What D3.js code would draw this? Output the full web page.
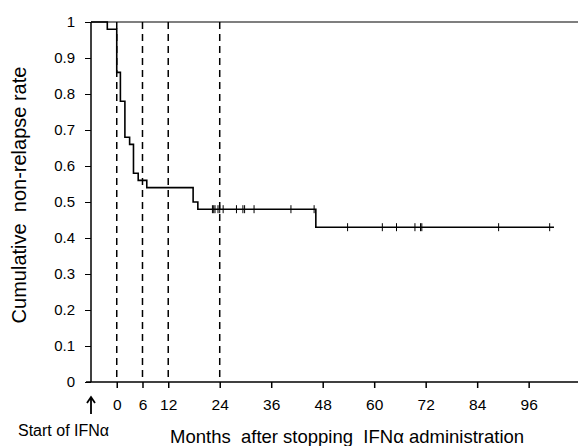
<!DOCTYPE html>
<html lang="en">
<head>
<meta charset="UTF-8">
<title>Cumulative non-relapse rate</title>
<script src="https://cdn.jsdelivr.net/npm/d3@7"></script>
<style>
  body { margin: 0; background: #fff; }
  text { font-family: "Liberation Sans", Arial, sans-serif; fill: #000; }
</style>
</head>
<body>
<script>
// step curve: time (months after stopping IFNa) where the rate changes, and new rate
var stepTimes = [-6, -2.2, 0, 0.85, 1.9, 3.0, 3.9, 5.0, 7.0, 17.8, 18.9, 46.4];
var stepRates = [1, 0.98, 0.86, 0.78, 0.68, 0.66, 0.58, 0.56, 0.54, 0.50, 0.48, 0.43];
var endTime = 101.9;
// censored observations
var censorTimes = [22.3, 22.6, 22.9, 23.6, 24.0, 24.8, 27.9, 29.4, 29.8, 32.0, 40.6, 46.0,
                   53.8, 61.9, 65.2, 69.5, 70.8, 71.1, 89.0, 100.9];
var markTimes = [0, 6, 12, 24];   // dashed reference lines
var xTicks = [0, 6, 12, 24, 36, 48, 60, 72, 84, 96];
var yTicks = [0, 0.1, 0.2, 0.3, 0.4, 0.5, 0.6, 0.7, 0.8, 0.9, 1];

var width = 579, height = 446;
var svg = d3.select("body").append("svg")
    .attr("width", width).attr("height", height);

var x = d3.scaleLinear().domain([-6, 107.5]).range([91, 578]);
var y = d3.scaleLinear().domain([0, 1]).range([382, 22]);

// rate at a given time (step function)
function rateAt(t) {
    var r = stepRates[0];
    for (var i = 0; i < stepTimes.length; i++) {
        if (stepTimes[i] <= t) r = stepRates[i];
    }
    return r;
}

/* dashed lines */
svg.selectAll(".mark").data(markTimes).enter().append("line")
    .attr("x1", d => x(d)).attr("x2", d => x(d))
    .attr("y1", y(1)).attr("y2", y(0))
    .attr("stroke", "#000").attr("stroke-width", 1.5)
    .attr("stroke-dasharray", "7,5");

/* top line */
svg.append("line")
    .attr("x1", x(-6)).attr("x2", x(107.5))
    .attr("y1", y(1)).attr("y2", y(1))
    .attr("stroke", "#000").attr("stroke-width", 1.2);

/* axes */
var yAxis = d3.axisLeft(y).tickValues(yTicks).tickSize(6).tickPadding(10)
    .tickFormat(d => d === 0 || d === 1 ? d3.format("d")(d) : d3.format(".1f")(d));
var gy = svg.append("g").attr("transform", "translate(" + x(-6) + ",0)").call(yAxis);
gy.select(".domain").attr("d", "M0," + y(1) + "V" + y(0)).attr("stroke-width", 1.5);
gy.selectAll("text").attr("font-size", "15px");

var xAxis = d3.axisBottom(x).tickValues(xTicks).tickSize(6).tickPadding(11);
var gx = svg.append("g").attr("transform", "translate(0," + y(0) + ")").call(xAxis);
gx.select(".domain").attr("d", "M" + (x(-6) - 5) + ",0H" + x(107.5)).attr("stroke-width", 1.5);
gx.selectAll(".tick line").attr("stroke-width", 1.5);
gx.selectAll("text").attr("font-size", "15.5px");

/* step curve */
var pts = stepTimes.map((t, i) => [t, stepRates[i]]);
pts.push([endTime, stepRates[stepRates.length - 1]]);
svg.append("path")
    .datum(pts)
    .attr("d", d3.line().x(d => x(d[0])).y(d => y(d[1])).curve(d3.curveStepAfter))
    .attr("fill", "none").attr("stroke", "#000").attr("stroke-width", 1.6);

/* censor ticks */
svg.selectAll(".censor").data(censorTimes).enter().append("line")
    .attr("x1", d => x(d)).attr("x2", d => x(d))
    .attr("y1", d => y(rateAt(d)) - 4).attr("y2", d => y(rateAt(d)) + 4)
    .attr("stroke", "#000").attr("stroke-width", 1);

/* labels */
svg.append("text")
    .attr("transform", "translate(26," + 195 + ") rotate(-90)")
    .attr("text-anchor", "middle").attr("font-size", "20px")
    .style("white-space", "pre")
    .text("Cumulative  non-relapse rate");

// start-of-treatment arrow
var ax = x(-6);
svg.append("path")
    .attr("d", "M" + ax + ",414V398M" + (ax - 4) + ",403L" + ax + ",397L" + (ax + 4) + ",403")
    .attr("fill", "none").attr("stroke", "#000").attr("stroke-width", 1.8);

svg.append("text")
    .attr("x", 18).attr("y", 436).attr("font-size", "16px")
    .text("Start of IFN\u03b1");

svg.append("text")
    .attr("x", 170).attr("y", 443).attr("font-size", "18.5px")
    .style("white-space", "pre")
    .text("Months  after stopping  IFN\u03b1 administration");
</script>
</body>
</html>
